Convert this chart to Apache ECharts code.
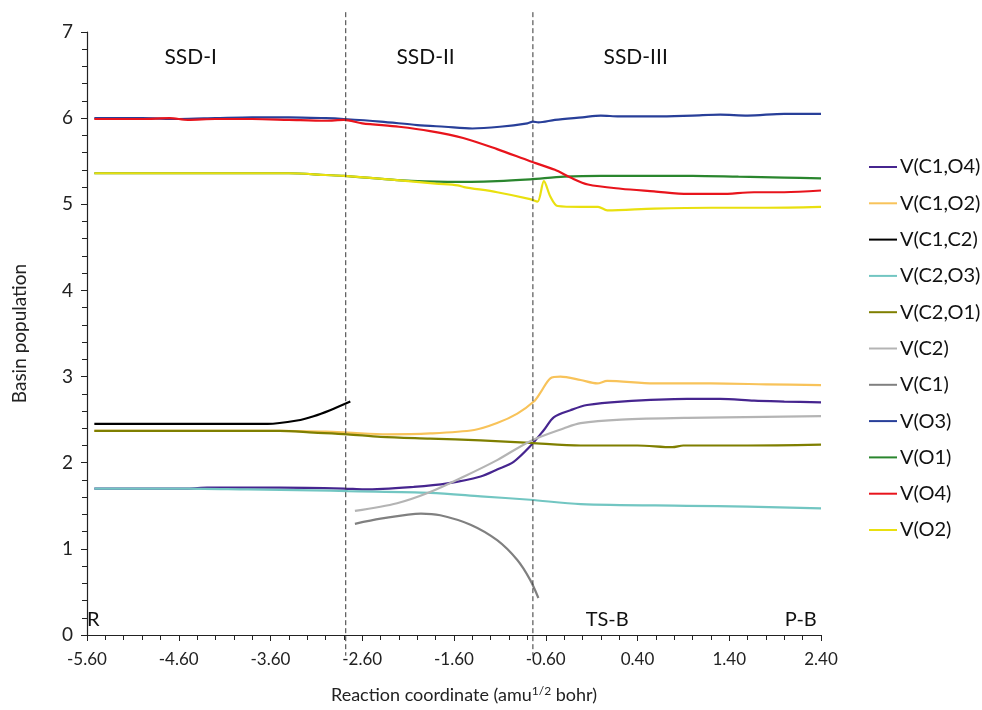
<!DOCTYPE html>
<html>
<head>
<meta charset="utf-8">
<script src="https://cdn.jsdelivr.net/npm/echarts@6/dist/echarts.min.js"></script>
<style>
  html, body { margin: 0; padding: 0; background: #fff; }
  #chart { width: 982px; height: 710px; }
</style>
</head>
<body>
<div id="chart"></div>
<script>
// reaction coordinate range and y range
const xTicks = { min: -5.6, max: 2.4, step: 1 }
const yTicks = { min: 0, max: 7, step: 1 }

// SSD boundaries (dashed lines)
const boundaries = [-2.78, -0.74]

// region labels [x, y, text]
const regionLabels = [[-4.47, 6.71, 'SSD-I'], [-1.91, 6.71, 'SSD-II'], [0.38, 6.71, 'SSD-III']]
const pointLabels = [[-5.6, 0.18, 'R', 'left'], [0.07, 0.18, 'TS-B', 'center'], [2.18, 0.18, 'P-B', 'center']]

// series data: [x, basin population]
const vC1O4 = [[-5.52,1.70],[-4.5,1.70],[-4.29,1.71],[-3.5,1.71],[-2.8,1.70],[-2.58,1.69],[-2.04,1.72],[-1.67,1.76],[-1.31,1.84],[-1.13,1.92],[-0.95,2.01],[-0.77,2.19],[-0.62,2.38],[-0.51,2.53],[-0.33,2.61],[-0.15,2.67],[0.22,2.71],[0.94,2.74],[1.3,2.74],[1.67,2.72],[2.0,2.71],[2.4,2.70]]
const vC1O2 = [[-5.52,2.37],[-4.5,2.37],[-3.5,2.37],[-3.0,2.36],[-2.76,2.35],[-2.33,2.33],[-1.86,2.34],[-1.38,2.38],[-1.13,2.46],[-0.91,2.57],[-0.73,2.71],[-0.66,2.81],[-0.55,2.98],[-0.44,3.00],[-0.22,2.96],[-0.04,2.92],[0.07,2.95],[0.58,2.92],[1.2,2.92],[1.8,2.91],[2.4,2.90]]
const vC1C2 = [[-5.52,2.45],[-4.5,2.45],[-3.63,2.45],[-3.31,2.49],[-3.13,2.54],[-2.95,2.61],[-2.73,2.71]]
const vC2O3 = [[-5.52,1.70],[-4.5,1.70],[-3.85,1.69],[-3.13,1.68],[-2.76,1.67],[-1.86,1.65],[-1.31,1.61],[-0.77,1.57],[-0.22,1.52],[0.94,1.50],[1.6,1.49],[2.4,1.47]]
const vC2O1 = [[-5.52,2.37],[-4.5,2.37],[-3.5,2.37],[-3.13,2.35],[-2.76,2.33],[-2.4,2.30],[-1.86,2.28],[-1.31,2.26],[-0.77,2.23],[-0.22,2.20],[0.4,2.20],[0.78,2.18],[0.9,2.20],[1.6,2.20],[2.4,2.21]]
const vC2 = [[-2.68,1.44],[-2.22,1.53],[-1.86,1.66],[-1.49,1.84],[-1.13,2.03],[-0.77,2.25],[-0.4,2.40],[-0.22,2.46],[0.22,2.50],[0.94,2.52],[2.4,2.54]]
const vC1 = [[-2.68,1.29],[-2.4,1.35],[-1.96,1.41],[-1.75,1.39],[-1.42,1.28],[-1.13,1.10],[-0.91,0.87],[-0.77,0.64],[-0.68,0.43]]
const vO3 = [[-5.52,6.0],[-5.0,6.0],[-4.6,5.99],[-4.2,6.0],[-3.8,6.01],[-3.4,6.01],[-3.0,6.0],[-2.8,5.99],[-2.4,5.96],[-2.0,5.92],[-1.7,5.90],[-1.4,5.88],[-1.1,5.90],[-0.8,5.94],[-0.74,5.96],[-0.68,5.95],[-0.5,5.98],[-0.2,6.01],[0.0,6.03],[0.2,6.02],[0.6,6.02],[1.0,6.03],[1.3,6.04],[1.6,6.03],[2.0,6.05],[2.4,6.05]]
const vO1 = [[-5.52,5.36],[-4.5,5.36],[-3.8,5.36],[-3.4,5.36],[-3.0,5.34],[-2.8,5.33],[-2.22,5.28],[-1.67,5.26],[-1.13,5.27],[-0.77,5.29],[-0.4,5.32],[0,5.33],[1.0,5.33],[1.5,5.32],[2.0,5.31],[2.4,5.30]]
const vO4 = [[-5.52,5.99],[-5.0,5.99],[-4.7,6.0],[-4.5,5.98],[-4.2,5.99],[-3.8,5.99],[-3.4,5.98],[-3.0,5.97],[-2.8,5.98],[-2.6,5.94],[-2.2,5.90],[-1.86,5.85],[-1.5,5.77],[-1.13,5.64],[-0.77,5.50],[-0.5,5.40],[-0.33,5.31],[-0.14,5.23],[0.22,5.18],[0.58,5.15],[0.95,5.12],[1.31,5.12],[1.67,5.14],[2.0,5.14],[2.4,5.16]]
const vO2 = [[-5.52,5.36],[-4.5,5.36],[-3.8,5.36],[-3.4,5.36],[-3.0,5.34],[-2.8,5.33],[-2.22,5.28],[-1.8,5.24],[-1.56,5.22],[-1.49,5.20],[-1.13,5.14],[-0.77,5.06],[-0.69,5.03],[-0.62,5.27],[-0.55,5.09],[-0.47,4.98],[-0.22,4.97],[-0.03,4.97],[0.07,4.93],[0.58,4.95],[1.2,4.96],[1.8,4.96],[2.4,4.97]]

const seriesList = [
  { name: 'V(C1,O4)', data: vC1O4, color: '#46258f' },
  { name: 'V(C1,O2)', data: vC1O2, color: '#f8c35a' },
  { name: 'V(C1,C2)', data: vC1C2, color: '#000000' },
  { name: 'V(C2,O3)', data: vC2O3, color: '#72c6c2' },
  { name: 'V(C2,O1)', data: vC2O1, color: '#7f7f00' },
  { name: 'V(C2)', data: vC2, color: '#b4b4b4' },
  { name: 'V(C1)', data: vC1, color: '#808080' },
  { name: 'V(O3)', data: vO3, color: '#283f99' },
  { name: 'V(O1)', data: vO1, color: '#2a862e' },
  { name: 'V(O4)', data: vO4, color: '#e8141c' },
  { name: 'V(O2)', data: vO2, color: '#e9e00f' }
]

const font = 'Lato, "Open Sans", sans-serif'
const chart = echarts.init(document.getElementById('chart'))

const option = {
  animation: false,
  textStyle: { fontFamily: font },
  grid: { left: 87, right: 161, top: 32, bottom: 75 },
  legend: {
    orient: 'vertical',
    left: 869,
    top: 157,
    padding: 0,
    icon: 'rect',
    itemWidth: 28,
    itemHeight: 2,
    itemGap: 16.3,
    textStyle: { fontSize: 20, color: '#111', fontFamily: font, padding: [0, 0, 0, -2] },
    data: seriesList.map(s => s.name)
  },
  xAxis: {
    type: 'value',
    min: xTicks.min,
    max: xTicks.max,
    interval: xTicks.step,
    name: 'Reaction coordinate (amu{sup|1/2} bohr)',
    nameLocation: 'middle',
    nameGap: 50,
    nameTextStyle: {
      fontSize: 18, color: '#222', padding: [0, 0, 0, 20],
      rich: { sup: { fontSize: 12, verticalAlign: 'top', padding: [0, 0, 9, 0], color: '#222' } }
    },
    axisLine: { onZero: false, lineStyle: { color: '#222', width: 1.2 } },
    axisTick: { show: true, length: 6, lineStyle: { color: '#222' } },
    minorTick: { show: true, splitNumber: 5, length: 5, lineStyle: { color: '#222' } },
    splitLine: { show: false },
    axisLabel: { fontSize: 17, color: '#222', margin: 16, formatter: v => v.toFixed(2) }
  },
  yAxis: {
    type: 'value',
    min: yTicks.min,
    max: yTicks.max,
    interval: yTicks.step,
    name: 'Basin population',
    nameLocation: 'middle',
    nameGap: 58,
    nameTextStyle: { fontSize: 19, color: '#222' },
    axisLine: { show: true, onZero: false, lineStyle: { color: '#222', width: 1.2 } },
    axisTick: { show: true, length: 6, lineStyle: { color: '#222' } },
    minorTick: { show: true, splitNumber: 5, length: 5, lineStyle: { color: '#222' } },
    splitLine: { show: false },
    axisLabel: { fontSize: 19, color: '#222', margin: 14 }
  },
  series: seriesList.map(s => ({
    name: s.name,
    type: 'line',
    data: s.data,
    symbol: 'none',
    smooth: 0.3,
    color: s.color,
    itemStyle: { color: s.color },
    lineStyle: { color: s.color, width: 2.2 }
  }))
}

chart.setOption(option)

// annotations positioned from data coordinates
const graphics = []
boundaries.forEach(x => {
  const top = chart.convertToPixel({ gridIndex: 0 }, [x, 7.23])
  const bot = chart.convertToPixel({ gridIndex: 0 }, [x, -0.24])
  graphics.push({
    type: 'line',
    shape: { x1: top[0], y1: top[1], x2: bot[0], y2: bot[1] },
    style: { stroke: '#333', lineWidth: 1, lineDash: [5, 3] },
    z: 10
  })
})
regionLabels.forEach(([x, y, t]) => {
  const p = chart.convertToPixel({ gridIndex: 0 }, [x, y])
  graphics.push({
    type: 'text', x: p[0], y: p[1],
    style: { text: t, fontSize: 21, fontFamily: font, fill: '#111', align: 'center', verticalAlign: 'middle' },
    z: 10
  })
})
pointLabels.forEach(([x, y, t, a]) => {
  const p = chart.convertToPixel({ gridIndex: 0 }, [x, y])
  graphics.push({
    type: 'text', x: p[0], y: p[1],
    style: { text: t, fontSize: 20, fontFamily: font, fill: '#111', align: a, verticalAlign: 'middle' },
    z: 10
  })
})
chart.setOption({ graphic: graphics })
</script>
</body>
</html>
